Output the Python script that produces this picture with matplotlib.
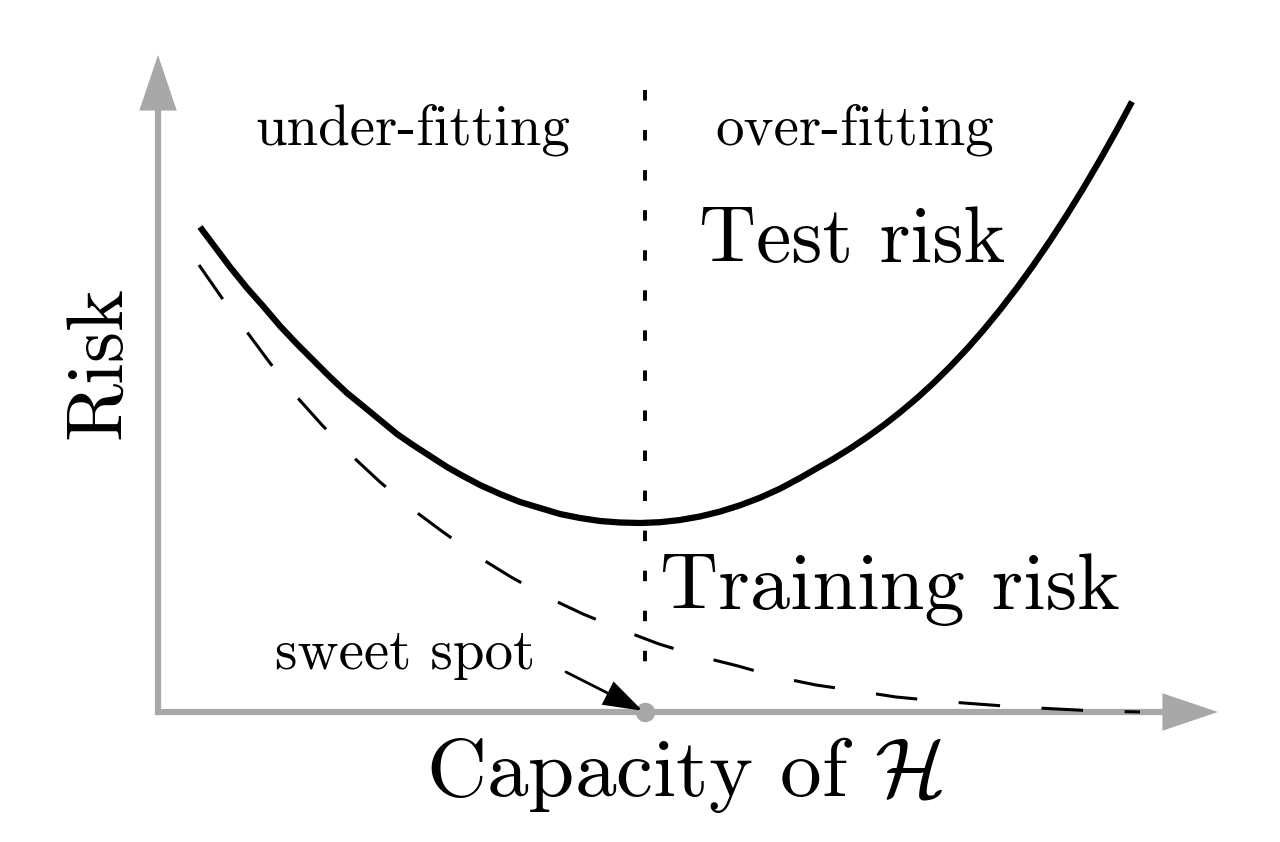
import matplotlib
matplotlib.use('Agg')
import matplotlib.pyplot as plt
from matplotlib.patches import FancyArrowPatch

# ---- data (arbitrary units) ----
capacity_test = [0.42, 0.57, 0.72, 0.89, 1.05, 1.22, 1.39, 1.55, 1.72, 1.89, 2.05, 2.22,
                 2.39, 2.55, 2.72, 2.89, 3.05, 3.22, 3.42, 3.62, 3.82, 4.02, 4.22, 4.42,
                 4.62, 4.82, 5.02, 5.22, 5.42, 5.62, 5.82, 6.02, 6.22, 6.42, 6.59, 6.75,
                 6.92, 7.09, 7.25, 7.42, 7.59, 7.75, 7.92, 8.09, 8.25, 8.42, 8.59, 8.75,
                 8.92, 9.09, 9.25, 9.42, 9.59, 9.74]
risk_test = [4.85, 4.65, 4.45, 4.24, 4.06, 3.86, 3.68, 3.52, 3.35, 3.19, 3.06, 2.92,
             2.78, 2.67, 2.56, 2.45, 2.36, 2.27, 2.18, 2.10, 2.04, 1.98, 1.94, 1.91,
             1.895, 1.89, 1.898, 1.92, 1.955, 2.004, 2.067, 2.143, 2.233, 2.34, 2.438, 2.529,
             2.634, 2.748, 2.863, 2.996, 3.139, 3.285, 3.452, 3.632, 3.814, 4.021, 4.242, 4.463,
             4.711, 4.973, 5.232, 5.521, 5.824, 6.103]

capacity_train = [0.41, 0.64, 0.89, 1.12, 1.38, 1.64, 1.93, 2.22, 2.54, 2.85, 3.19, 3.53,
                  3.89, 4.25, 4.64, 5.01, 5.40, 5.80, 6.19, 6.58, 6.99, 7.38, 7.80, 8.19,
                  8.60, 8.99, 9.38, 9.82]
risk_train = [4.47, 4.14, 3.80, 3.49, 3.16, 2.87, 2.57, 2.30, 2.03, 1.80, 1.56, 1.35,
              1.15, 0.98, 0.82, 0.68, 0.56, 0.46, 0.35, 0.27, 0.21, 0.15, 0.11, 0.08,
              0.05, 0.03, 0.01, 0.00]

sweet_spot = 4.87
region_labels = ['under-fitting', 'over-fitting']
curve_labels = ['Test risk', 'Training risk']
annotation_label = 'sweet spot'
x_label = r'Capacity of $\mathcal{H}$'
y_label = 'Risk'

# ---- style ----
plt.rcParams['font.family'] = ['cmr10', 'DejaVu Serif']
plt.rcParams['mathtext.fontset'] = 'cm'
plt.rcParams['axes.unicode_minus'] = False

gray = '#a8a8a8'

fig = plt.figure(figsize=(12.8, 8.42), dpi=100)
ax = fig.add_axes([0, 0, 1, 1])
ax.set_xlim(-1.58, 11.22)
ax.set_ylim(-1.30, 7.12)
ax.axis('off')

# axes with arrow heads
y_top, x_right = 6.57, 10.60
ax.plot([0, 0, x_right - 0.3], [y_top - 0.3, 0, 0], color=gray, lw=4.5,
        solid_joinstyle='miter', solid_capstyle='butt', zorder=1)
for start, end in [((0, y_top - 1.0), (0, y_top)), ((x_right - 1.0, 0), (x_right, 0))]:
    ax.add_patch(FancyArrowPatch(start, end,
                                 arrowstyle='-|>,head_length=40,head_width=13.5',
                                 mutation_scale=1, lw=0, color=gray,
                                 shrinkA=0, shrinkB=0, zorder=1))

# dotted separator
ax.plot([sweet_spot, sweet_spot], [6.22, 0.40], color='black', lw=2.8,
        linestyle=(0, (2.7, 7.6)), zorder=2)

# curves
ax.plot(capacity_test, risk_test, color='black', lw=4.5,
        solid_capstyle='butt', solid_joinstyle='round', zorder=3)
ax.plot(capacity_train, risk_train, color='black', lw=2.2,
        linestyle=(0, (13.6, 13.6)), dash_capstyle='butt', zorder=3)

# sweet spot marker and arrow
ax.plot([sweet_spot], [0], marker='o', ms=14, color=gray, mec='none', zorder=4)
ax.add_patch(FancyArrowPatch((4.08, 0.40), (sweet_spot, 0.0),
                             arrowstyle='-|>,head_length=24,head_width=8',
                             mutation_scale=1, lw=2.0, color='black',
                             joinstyle='miter', shrinkA=0, shrinkB=2, zorder=5))

# texts
ax.text(2.55, 5.67, region_labels[0], ha='center', va='baseline', fontsize=41)
ax.text(6.97, 5.67, region_labels[1], ha='center', va='baseline', fontsize=41)
ax.text(6.94, 4.50, curve_labels[0], ha='center', va='baseline', fontsize=57)
ax.text(7.32, 1.03, curve_labels[1], ha='center', va='baseline', fontsize=58)
ax.text(2.47, 0.43, annotation_label, ha='center', va='baseline', fontsize=41)
ax.text(5.27, -0.84, x_label, ha='center', va='baseline', fontsize=60)
ax.text(-0.38, 3.49, y_label, ha='center', va='baseline', fontsize=57,
        rotation=90, rotation_mode='anchor')

fig.savefig('out.png', dpi=100, facecolor='white')
